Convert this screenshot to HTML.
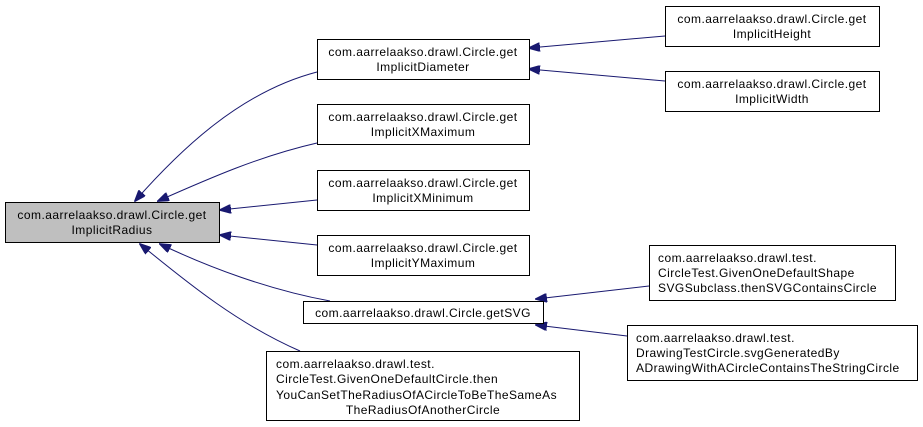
<!DOCTYPE html>
<html><head><meta charset="utf-8"><style>
html,body{margin:0;padding:0;background:#fff;}
svg{display:block;}
text{font-family:"Liberation Sans",sans-serif;font-size:12px;letter-spacing:0.45px;fill:#000;}
</style></head><body>
<svg width="923" height="427" viewBox="0 0 923 427" xmlns="http://www.w3.org/2000/svg">
<defs>
<marker id="a" markerWidth="12" markerHeight="9" refX="11" refY="4.5" orient="auto" markerUnits="userSpaceOnUse">
<path d="M0,0 L12,4.5 L0,9 Z" fill="#191970" stroke="#191970"/>
</marker>
</defs>
<g fill="none" stroke="#191970" stroke-width="1" marker-end="url(#a)">
<path d="M317,72 C240,92 180,150 135,201"/>
<path d="M317,143 C260,156 210,178 158,201"/>
<path d="M317,200 L220,210"/>
<path d="M317,245 L220,235"/>
<path d="M330,301 C270,290 210,268 160,244"/>
<path d="M300,351 C240,325 190,285 140,244"/>
<path d="M665,36 L529,48"/>
<path d="M665,81 L529,69"/>
<path d="M649,286 L536,299"/>
<path d="M627,336 L536,325"/>
</g>
<g stroke="#000" stroke-width="1">
<rect x="5.5" y="202.5" width="214" height="40" fill="#bfbfbf"/>
<rect x="317.5" y="39.5" width="212" height="40" fill="#fff"/>
<rect x="317.5" y="104.5" width="212" height="40" fill="#fff"/>
<rect x="317.5" y="170.5" width="212" height="40" fill="#fff"/>
<rect x="317.5" y="235.5" width="212" height="40" fill="#fff"/>
<rect x="303.5" y="301.5" width="240" height="22" fill="#fff"/>
<rect x="266.5" y="351.5" width="313" height="69" fill="#fff"/>
<rect x="665.5" y="6.5" width="214" height="40" fill="#fff"/>
<rect x="665.5" y="71.5" width="214" height="40" fill="#fff"/>
<rect x="649.5" y="245.5" width="246" height="55" fill="#fff"/>
<rect x="627.5" y="325.5" width="290" height="55" fill="#fff"/>
</g>
<g text-anchor="middle">
<text x="112" y="219">com.aarrelaakso.drawl.Circle.get</text>
<text x="112" y="234">ImplicitRadius</text>
<text x="423" y="56">com.aarrelaakso.drawl.Circle.get</text>
<text x="423" y="71">ImplicitDiameter</text>
<text x="423" y="121">com.aarrelaakso.drawl.Circle.get</text>
<text x="423" y="136">ImplicitXMaximum</text>
<text x="423" y="187">com.aarrelaakso.drawl.Circle.get</text>
<text x="423" y="202">ImplicitXMinimum</text>
<text x="423" y="252">com.aarrelaakso.drawl.Circle.get</text>
<text x="423" y="267">ImplicitYMaximum</text>
<text x="423" y="317">com.aarrelaakso.drawl.Circle.getSVG</text>
<text x="423" y="414">TheRadiusOfAnotherCircle</text>
<text x="772" y="23">com.aarrelaakso.drawl.Circle.get</text>
<text x="772" y="38">ImplicitHeight</text>
<text x="772" y="88">com.aarrelaakso.drawl.Circle.get</text>
<text x="772" y="103">ImplicitWidth</text>
</g>
<g>
<text x="276" y="368">com.aarrelaakso.drawl.test.</text>
<text x="276" y="383">CircleTest.GivenOneDefaultCircle.then</text>
<text x="276" y="399">YouCanSetTheRadiusOfACircleToBeTheSameAs</text>
<text x="658" y="262">com.aarrelaakso.drawl.test.</text>
<text x="658" y="277">CircleTest.GivenOneDefaultShape</text>
<text x="658" y="292">SVGSubclass.thenSVGContainsCircle</text>
<text x="636" y="342">com.aarrelaakso.drawl.test.</text>
<text x="636" y="357">DrawingTestCircle.svgGeneratedBy</text>
<text x="636" y="372">ADrawingWithACircleContainsTheStringCircle</text>
</g>
</svg>
</body></html>
